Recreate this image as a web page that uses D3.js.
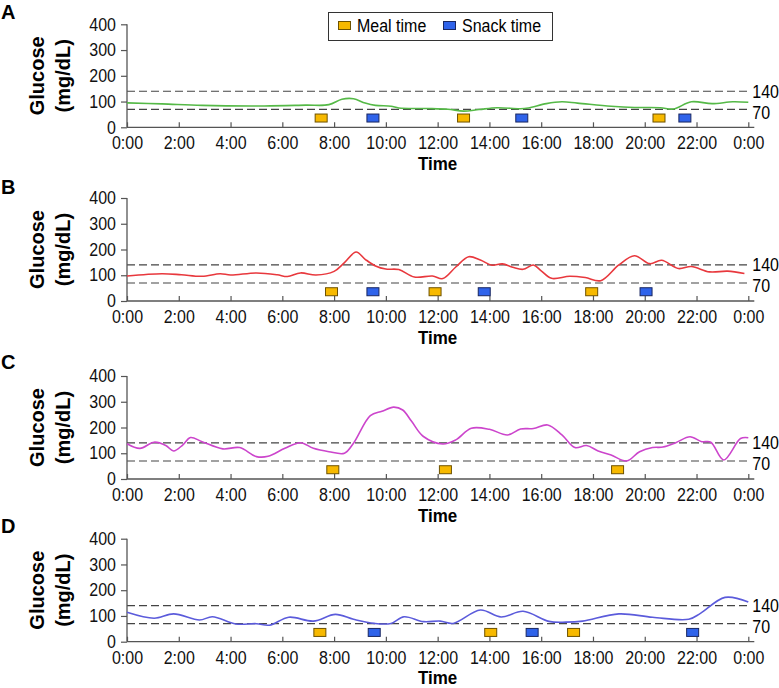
<!DOCTYPE html>
<html>
<head>
<meta charset="utf-8">
<script src="https://cdn.jsdelivr.net/npm/d3@7"></script>
<style>
  html, body { margin: 0; padding: 0; background: #fff; }
  svg { display: block; font-family: "Liberation Sans", Arial, Helvetica, sans-serif; }
</style>
</head>
<body>
<svg id="chart" width="779" height="688"></svg>
<script>
// ---------------- DATA ----------------
const panelLabels = ["A", "B", "C", "D"];
const lineColors = ["#55b947", "#e8383d", "#cc45cc", "#5b5bdb"];

const timeTickHours = [0, 2, 4, 6, 8, 10, 12, 14, 16, 18, 20, 22, 24];
const timeTickLabels = ["0:00", "2:00", "4:00", "6:00", "8:00", "10:00", "12:00", "14:00", "16:00", "18:00", "20:00", "22:00", "0:00"];
const glucoseTicks = [0, 100, 200, 300, 400];
const thresholds = [140, 70];

// Panel A (green)
const hoursA = [0, 1.35, 2.9, 5.3, 6.9, 7.8, 8.3, 8.75, 9.2, 9.6, 10.2, 10.5, 11.6, 12.4, 13.0, 13.6, 14.3, 15.2, 15.5, 16.2, 16.8, 17.4, 18.7, 19.6, 20.6, 21.1, 21.8, 22.6, 23.4, 24];
const glucoseA = [95, 91, 85, 83, 86, 88, 109, 111, 94, 85, 82, 75, 73, 70, 63, 69, 76, 72, 75, 92, 99, 94, 82, 77, 76, 71, 99, 92, 99, 97];

// Panel B (red)
const hoursB = [0, 1.35, 2.1, 2.9, 3.6, 4.0, 5.0, 5.8, 6.2, 6.7, 7.3, 8.0, 8.4, 8.85, 9.2, 9.6, 10.0, 10.5, 11.1, 11.8, 12.2, 12.7, 13.2, 13.65, 14.1, 14.5, 14.9, 15.3, 15.7, 16.0, 16.4, 17.1, 17.7, 18.3, 19.0, 19.6, 20.2, 20.65, 21.3, 21.8, 22.5, 23.2, 23.85];
const glucoseB = [97, 106, 102, 96, 106, 101, 109, 102, 95, 109, 101, 115, 149, 190, 162, 136, 124, 122, 93, 97, 87, 132, 172, 159, 139, 144, 131, 123, 140, 117, 88, 96, 91, 79, 140, 176, 145, 158, 126, 134, 113, 116, 107];

// Panel C (magenta)
const hoursC = [0, 0.5, 1.05, 1.5, 1.8, 2.15, 2.45, 2.9, 3.7, 4.35, 5.0, 5.45, 6.1, 6.7, 7.2, 7.8, 8.4, 8.75, 9.4, 9.85, 10.3, 10.65, 11.0, 11.45, 12.2, 12.7, 13.3, 14.0, 14.7, 15.2, 15.7, 16.25, 16.8, 17.3, 17.75, 18.2, 18.7, 19.3, 19.8, 20.3, 20.7, 21.2, 21.75, 22.2, 22.55, 23.05, 23.7, 24];
const glucoseC = [137, 119, 143, 130, 109, 132, 161, 145, 117, 122, 87, 88, 119, 141, 119, 106, 100, 139, 246, 263, 279, 268, 223, 165, 136, 152, 197, 193, 171, 194, 196, 210, 171, 122, 130, 109, 93, 70, 106, 122, 124, 141, 164, 145, 143, 74, 157, 160];

// Panel D (blue)
const hoursD = [0, 1.05, 1.8, 2.8, 3.3, 4.2, 5.0, 5.5, 6.25, 7.2, 8.05, 8.75, 9.55, 10.2, 10.7, 11.45, 12.1, 12.6, 13.65, 14.45, 15.3, 16.3, 16.95, 17.6, 19.0, 20.3, 21.7, 22.15, 23.1, 24];
const glucoseD = [114, 91, 108, 84, 97, 69, 70, 64, 95, 80, 106, 87, 71, 71, 97, 78, 80, 71, 123, 96, 118, 79, 76, 80, 108, 95, 87, 110, 172, 154];

// Meal / snack times (hours)
const mealA = [7.5, 13.0, 20.55];
const snackA = [9.5, 15.25, 21.55];
const mealB = [7.9, 11.9, 17.95];
const snackB = [9.5, 13.8, 20.05];
const mealC = [7.95, 12.3, 18.95];
const snackC = [];
const mealD = [7.45, 14.05, 17.25];
const snackD = [9.55, 15.65, 21.85];

const legendLabels = ["Meal time", "Snack time"];
const mealColor = "#f7b900", mealStroke = "#6e5200";
const snackColor = "#2f63ea", snackStroke = "#1a2760";

const panels = [
  { hours: hoursA, values: glucoseA, meals: mealA, snacks: snackA },
  { hours: hoursB, values: glucoseB, meals: mealB, snacks: snackB },
  { hours: hoursC, values: glucoseC, meals: mealC, snacks: snackC },
  { hours: hoursD, values: glucoseD, meals: mealD, snacks: snackD }
];

// ---------------- LAYOUT ----------------
const svg = d3.select("#chart");
const xLeft = 127, xRight = 748.3;
const panelBottoms = [127.3, 301, 479, 641.7];
const letterBaselines = [18.5, 193.5, 368.5, 533];
const panelHeight = 103;
const markerLevel = 36; // glucose-level where meal markers sit
const axisColor = "#555";
const vStretch = 1.12;

const x = d3.scaleLinear().domain([0, 24]).range([xLeft, xRight]);

panels.forEach((p, i) => {
  const y0 = panelBottoms[i];
  const y = d3.scaleLinear().domain([0, 400]).range([y0, y0 - panelHeight]);
  const g = svg.append("g");

  // panel letter
  g.append("text").attr("x", 1).attr("y", letterBaselines[i])
    .attr("font-size", 20).attr("font-weight", "bold").text(panelLabels[i]);

  // threshold dashed lines
  thresholds.forEach((t, k) => {
    g.append("line").attr("x1", xLeft).attr("x2", xRight - 1)
      .attr("y1", y(t)).attr("y2", y(t))
      .attr("stroke", "#444").attr("stroke-width", 1.2)
      .attr("stroke-dasharray", "8,4");
    g.append("text").attr("transform", `translate(${xRight + 4},${y(t) + (k === 1 ? 3 : 0)}) scale(1,${vStretch})`)
      .attr("dy", "0.36em").attr("font-size", 16).text(String(t));
  });

  // y axis
  const yAxis = d3.axisLeft(y).tickValues(glucoseTicks).tickSize(6).tickPadding(5);
  const ya = g.append("g").attr("transform", `translate(${xLeft},0)`).call(yAxis);
  ya.select(".domain").attr("stroke", axisColor).attr("stroke-width", 1.3).attr("d", `M0,${y(400)}V${y0}`);
  ya.selectAll(".tick line").attr("stroke", axisColor).attr("stroke-width", 1.2);
  ya.selectAll("text").attr("font-size", 16).attr("fill", "#111")
    .attr("font-family", "Liberation Sans, Arial, sans-serif")
    .attr("transform", `scale(1,${vStretch})`);

  // x axis (ticks inward)
  const xAxis = d3.axisBottom(x).tickValues(timeTickHours)
    .tickFormat((d, j) => timeTickLabels[j]).tickSizeInner(-5).tickSizeOuter(0).tickPadding(0);
  const xa = g.append("g").attr("transform", `translate(0,${y0})`).call(xAxis);
  xa.select(".domain").attr("stroke", axisColor).attr("stroke-width", 1.3).attr("d", `M${xLeft},0H${xRight + 6}`);
  xa.selectAll(".tick line").attr("stroke", axisColor).attr("stroke-width", 1.2);
  xa.selectAll("text").attr("font-size", 16).attr("fill", "#111")
    .attr("font-family", "Liberation Sans, Arial, sans-serif")
    .attr("y", 0).attr("dy", 0)
    .attr("transform", `translate(0,22) scale(1,${vStretch})`);

  // axis titles
  g.append("text").attr("transform", `translate(${(xLeft + xRight) / 2},${y0 + 42.5}) scale(1,${vStretch})`)
    .attr("text-anchor", "middle").attr("font-size", 17).attr("font-weight", "bold").text("Time");
  const cy = y0 - panelHeight / 2;
  g.append("text").attr("transform", `translate(44,${cy}) rotate(-90)`)
    .attr("text-anchor", "middle").attr("font-size", 20).attr("font-weight", "bold").text("Glucose");
  g.append("text").attr("transform", `translate(70,${cy}) rotate(-90)`)
    .attr("text-anchor", "middle").attr("font-size", 20).attr("font-weight", "bold").text("(mg/dL)");

  // glucose curve
  const line = d3.line().x((d, j) => x(p.hours[j])).y(d => y(d)).curve(d3.curveCatmullRom.alpha(0.5));
  g.append("path").datum(p.values).attr("d", line)
    .attr("fill", "none").attr("stroke", lineColors[i]).attr("stroke-width", 1.6);

  // meal / snack markers
  const mw = 12, mh = 8;
  g.selectAll(".meal").data(p.meals).enter().append("rect")
    .attr("x", d => x(d) - mw / 2).attr("y", y(markerLevel) - mh / 2)
    .attr("width", mw).attr("height", mh)
    .attr("fill", mealColor).attr("stroke", mealStroke).attr("stroke-width", 1);
  g.selectAll(".snack").data(p.snacks).enter().append("rect")
    .attr("x", d => x(d) - mw / 2).attr("y", y(markerLevel) - mh / 2)
    .attr("width", mw).attr("height", mh)
    .attr("fill", snackColor).attr("stroke", snackStroke).attr("stroke-width", 1);
});

// ---------------- LEGEND ----------------
const lg = svg.append("g");
lg.append("rect").attr("x", 328.5).attr("y", 12.5).attr("width", 224).attr("height", 28)
  .attr("fill", "#fff").attr("stroke", "#333").attr("stroke-width", 1);
const legendItems = [
  { label: legendLabels[0], fill: mealColor, stroke: mealStroke, x: 338 },
  { label: legendLabels[1], fill: snackColor, stroke: snackStroke, x: 443 }
];
legendItems.forEach(it => {
  lg.append("rect").attr("x", it.x + 0.5).attr("y", 21.5).attr("width", 12).attr("height", 8)
    .attr("fill", it.fill).attr("stroke", it.stroke).attr("stroke-width", 1);
  lg.append("text").attr("transform", `translate(${it.x + 19},26) scale(1,${vStretch})`).attr("dy", "0.35em")
    .attr("font-size", 16).text(it.label);
});
</script>
</body>
</html>
